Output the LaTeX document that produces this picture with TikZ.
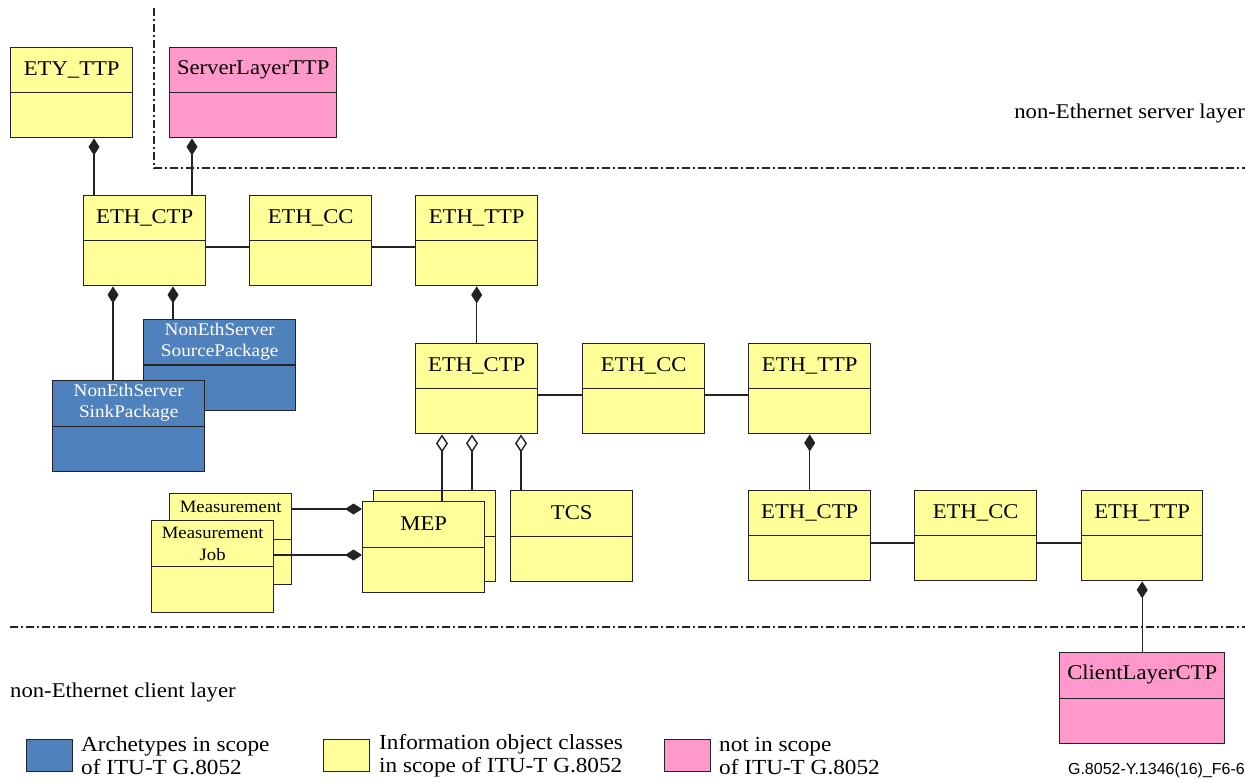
\documentclass[tikz,border=0pt]{standalone}
\usepackage{fontspec}
\setmainfont{Liberation Serif}[FakeStretch=1.08]
\newfontfamily\arialfont{Liberation Sans}
\usetikzlibrary{arrows.meta}
\definecolor{clsyellow}{RGB}{255,255,153}
\definecolor{clsblue}{RGB}{79,129,189}
\definecolor{clspink}{RGB}{255,153,204}
\definecolor{edgegray}{RGB}{35,35,35}
\begin{document}
\begin{tikzpicture}[x=1pt,y=-1pt,
  cls/.style={draw=edgegray, line width=1.4pt, minimum width=122pt, minimum height=90pt,
    inner sep=0pt, anchor=north west, fill=clsyellow,
    path picture={\draw[edgegray,line width=1.4pt] (path picture bounding box.west) -- (path picture bounding box.east);}},
  lbl/.style={anchor=center, yshift=-22.5pt, align=center, inner sep=0pt,
    font=\fontsize{21}{23}\selectfont},
  ttl/.style={label={[lbl]north:#1}},
  pkg/.style={cls, fill=clsblue, minimum width=152pt, minimum height=91pt},
  pkgttl/.style={label={[lbl, text=white, font=\fontsize{17.8}{21}\selectfont]north:#1}},
  measttl/.style={label={[lbl, yshift=-1.5pt, font=\fontsize{17.3}{22}\selectfont]north:#1}},
  oos/.style={cls, fill=clspink},
  link/.style={draw=edgegray, line width=1.4pt},
  comp/.style={link, -{Diamond[length=17pt,width=11pt]}},
  aggr/.style={link, -{Diamond[length=18pt,width=12pt,fill=white]}},
  layerline/.style={draw=edgegray, line width=1.3pt, dash pattern=on 8pt off 3pt on 2pt off 3pt},
  plain/.style={inner sep=0pt, font=\fontsize{21}{23}\selectfont},
  legbox/.style={draw=edgegray, line width=1.4pt, minimum width=46pt, minimum height=32pt, inner sep=0pt, anchor=north west},
  legtxt/.style={inner sep=0pt, anchor=west, align=left, font=\fontsize{21.5}{23}\selectfont}
]
\useasboundingbox (0,0) rectangle (1258,783);

% layer boundaries
\coordinate (lv0) at (154,8);
\coordinate (lv1) at (154,168);
\coordinate (lh1) at (1245,168);
\coordinate (lb0) at (10,627);
\coordinate (lb1) at (1245,627);
\draw[layerline] (lv0) -- (lv1) -- (lh1);
\draw[layerline] (lb0) -- (lb1);

% classes
\node[cls, ttl={ETY\_TTP}] (ety) at (10,47) {};
\node[oos, minimum width=167pt, ttl={ServerLayerTTP}] (slt) at (169,47) {};

\node[cls, ttl={ETH\_CTP}] (ctpA) at (83,195) {};
\node[cls, ttl={ETH\_CC}]  (ccA)  at (249,195) {};
\node[cls, ttl={ETH\_TTP}] (ttpA) at (415,195) {};

\node[pkg, pkgttl={NonEthServer\\SourcePackage}] (src) at (143,319) {};
\node[pkg, pkgttl={NonEthServer\\SinkPackage}] (sink) at (52,380) {};

\node[cls, ttl={ETH\_CTP}] (ctpB) at (415,343) {};
\node[cls, ttl={ETH\_CC}]  (ccB)  at (582,343) {};
\node[cls, ttl={ETH\_TTP}] (ttpB) at (748,343) {};

\node[cls, minimum height=91pt, label={[lbl, yshift=8.5pt, font=\fontsize{17.3}{22}\selectfont]north:Measurement}] (measB) at (169,493) {};
\node[cls, minimum height=92pt, measttl={Measurement\\Job}] (measF) at (151,520) {};

\node[cls, minimum height=91pt] (mepB) at (373,490) {};
\node[cls, minimum height=91pt, ttl={MEP}] (mepF) at (362,501) {};
\node[cls, minimum height=91pt, ttl={TCS}] (tcs) at (510,490) {};

\node[cls, ttl={ETH\_CTP}] (ctpC) at (748,490) {};
\node[cls, ttl={ETH\_CC}]  (ccC)  at (914,490) {};
\node[cls, minimum width=121pt, ttl={ETH\_TTP}] (ttpC) at (1081,490) {};

\node[oos, minimum width=165pt, minimum height=91pt, ttl={ClientLayerCTP}] (clt) at (1059,652) {};

% connector x/y positions
\coordinate (xa) at (94,0);
\coordinate (xb) at (192,0);
\coordinate (xc) at (113,0);
\coordinate (xd) at (173,0);
\coordinate (xe) at (442,0);
\coordinate (xf) at (472,0);
\coordinate (xg) at (521,0);
\coordinate (ya) at (0,247);
\coordinate (yb) at (0,395);
\coordinate (yc) at (0,543);
\coordinate (yd) at (0,509);
\coordinate (ye) at (0,555);

% compositions
\draw[comp] (ctpA.north -| xa) -- (ety.south -| xa);
\draw[comp] (ctpA.north -| xb) -- (slt.south -| xb);
\draw[comp] (sink.north -| xc) -- (ctpA.south -| xc);
\draw[comp] (src.north -| xd) -- (ctpA.south -| xd);
\draw[comp] (ctpB.north) -- (ttpA.south);
\draw[comp] (ctpC.north) -- (ttpB.south);
\draw[comp] (clt.north) -- (ttpC.south);
\draw[comp] (measB.east |- yd) -- (mepF.west |- yd);
\draw[comp] (measF.east |- ye) -- (mepF.west |- ye);

% aggregations
\draw[aggr] (mepF.north -| xe) -- (ctpB.south -| xe);
\draw[aggr] (mepB.north -| xf) -- (ctpB.south -| xf);
\draw[aggr] (tcs.north -| xg) -- (ctpB.south -| xg);

% associations
\draw[link] (ctpA.east |- ya) -- (ccA.west |- ya);
\draw[link] (ccA.east |- ya) -- (ttpA.west |- ya);
\draw[link] (ctpB.east |- yb) -- (ccB.west |- yb);
\draw[link] (ccB.east |- yb) -- (ttpB.west |- yb);
\draw[link] (ctpC.east |- yc) -- (ccC.west |- yc);
\draw[link] (ccC.east |- yc) -- (ttpC.west |- yc);

% layer labels
\node[plain, anchor=east] (srvlayer) at (1245,113) {non-Ethernet server layer};
\node[plain, anchor=west] (clilayer) at (10,692) {non-Ethernet client layer};

% legend
\node[legbox, fill=clsblue] (legA) at (26,739) {};
\node[legtxt] (legAt) at (81,756) {Archetypes in scope\\of ITU-T G.8052};
\node[legbox, fill=clsyellow] (legB) at (323,739) {};
\node[legtxt] (legBt) at (379,756) {Information object classes\\in scope of ITU-T G.8052};
\node[legbox, fill=clspink] (legC) at (664,739) {};
\node[legtxt] (legCt) at (719,756) {not in scope\\of ITU-T G.8052};

\node[inner sep=0pt, anchor=east, font=\arialfont\fontsize{16}{18}\selectfont] (figid) at (1245,770) {G.8052-Y.1346(16)\_F6-6};
\end{tikzpicture}
\end{document}
